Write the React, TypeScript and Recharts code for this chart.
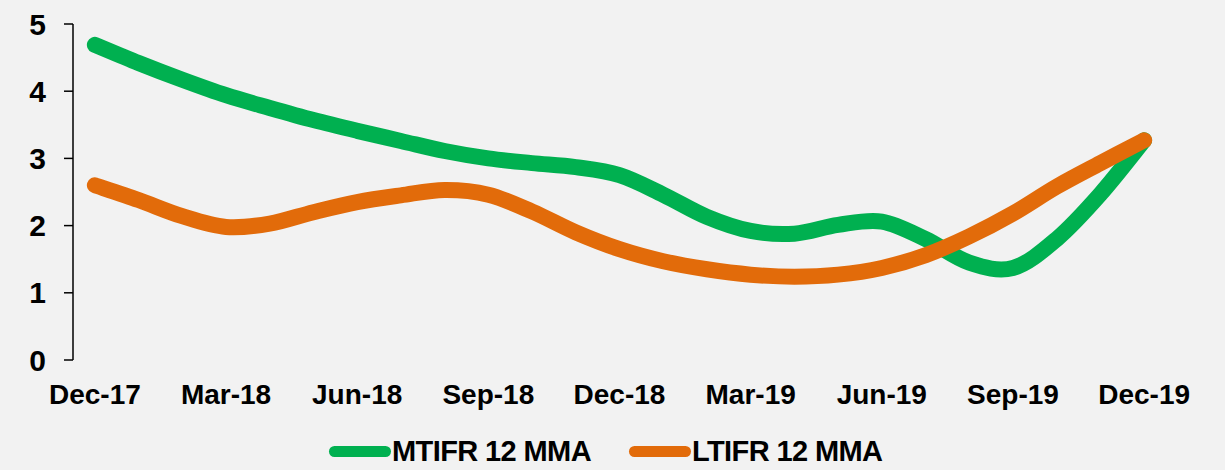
import { LineChart, Line, XAxis, YAxis, Legend } from 'recharts'

// monthly points, Dec-17 .. Dec-19
const months = [
  'Dec-17', 'Jan-18', 'Feb-18', 'Mar-18', 'Apr-18', 'May-18', 'Jun-18', 'Jul-18', 'Aug-18',
  'Sep-18', 'Oct-18', 'Nov-18', 'Dec-18', 'Jan-19', 'Feb-19', 'Mar-19', 'Apr-19', 'May-19',
  'Jun-19', 'Jul-19', 'Aug-19', 'Sep-19', 'Oct-19', 'Nov-19', 'Dec-19',
]
const mtifr = [
  4.69, 4.42, 4.17, 3.94, 3.75, 3.57, 3.41, 3.26, 3.11, 3.0, 2.93, 2.87, 2.75,
  2.46, 2.13, 1.92, 1.88, 2.01, 2.06, 1.8, 1.45, 1.37, 1.8, 2.47, 3.27,
]
const ltifr = [
  2.6, 2.38, 2.14, 1.98, 2.03, 2.2, 2.35, 2.45, 2.53, 2.46, 2.21, 1.9, 1.65,
  1.47, 1.35, 1.27, 1.24, 1.27, 1.37, 1.56, 1.84, 2.18, 2.58, 2.93, 3.27,
]
const labelTicks = [0, 3, 6, 9, 12, 15, 18, 21, 24]
const markTicks = [-0.5, 2.5, 5.5, 8.5, 11.5, 14.5, 17.5, 20.5, 23.5]
const yTicks = [0, 1, 2, 3, 4, 5]

const data = months.map((m, i) => ({ i, month: m, mtifr: mtifr[i], ltifr: ltifr[i] }))

const FONT = '"Liberation Sans", Arial, sans-serif'
const GREEN = '#00B050'
const ORANGE = '#E26B0A'

// Excel-style smoothing (Catmull-Rom through every point)
function smoothCurve(context: any) {
  let pts: number[][] = []
  return {
    areaStart() {},
    areaEnd() {},
    lineStart() {
      pts = []
    },
    point(x: number, y: number) {
      pts.push([+x, +y])
    },
    lineEnd() {
      if (!pts.length) return
      context.moveTo(pts[0][0], pts[0][1])
      for (let k = 0; k < pts.length - 1; k++) {
        const p0 = pts[k - 1] || pts[k]
        const p1 = pts[k]
        const p2 = pts[k + 1]
        const p3 = pts[k + 2] || p2
        context.bezierCurveTo(
          p1[0] + (p2[0] - p0[0]) / 6, p1[1] + (p2[1] - p0[1]) / 6,
          p2[0] - (p3[0] - p1[0]) / 6, p2[1] - (p3[1] - p1[1]) / 6,
          p2[0], p2[1],
        )
      }
    },
  }
}

function LegendContent() {
  const items = [
    { label: 'MTIFR 12 MMA', color: GREEN },
    { label: 'LTIFR 12 MMA', color: ORANGE },
  ]
  return (
    <div style={{ display: 'flex', alignItems: 'center', paddingLeft: 329, paddingTop: 5, gap: 38 }}>
      {items.map((it) => (
        <div key={it.label} style={{ display: 'flex', alignItems: 'center' }}>
          <span style={{ width: 62, height: 11, borderRadius: 6, background: it.color, marginRight: 1 }} />
          <span style={{ fontFamily: FONT, fontWeight: 'bold', fontSize: 29, letterSpacing: -0.6, color: '#000' }}>
            {it.label}
          </span>
        </div>
      ))}
    </div>
  )
}

export default function App() {
  const xTick = { fontFamily: FONT, fontWeight: 'bold' as const, fontSize: 28, fill: '#000' }
  const yTick = { fontFamily: FONT, fontWeight: 'bold' as const, fontSize: 30, fill: '#000' }
  return (
    <div style={{ position: 'absolute', left: 0, top: 0, width: 1225, height: 470, background: '#F2F2F2' }}>
      <LineChart width={1225} height={470} data={data} margin={{ top: 24, right: 59, left: 0, bottom: 0 }}>
        <XAxis
          xAxisId="marks"
          type="number"
          dataKey="i"
          domain={[-0.5, 24.5]}
          ticks={markTicks}
          tick={false}
          tickSize={8}
          height={0}
          axisLine={{ stroke: '#000', strokeWidth: 1.5 }}
          tickLine={{ stroke: '#000', strokeWidth: 1.5 }}
        />
        <XAxis
          xAxisId="labels"
          type="number"
          dataKey="i"
          domain={[-0.5, 24.5]}
          ticks={labelTicks}
          tickFormatter={(v: number) => months[v]}
          tick={xTick}
          axisLine={false}
          tickLine={false}
          tickMargin={18}
          height={70}
          interval={0}
        />
        <YAxis
          domain={[0, 5]}
          ticks={yTicks}
          width={73}
          tick={yTick}
          tickSize={9}
          tickMargin={18}
          axisLine={{ stroke: '#000', strokeWidth: 1.5 }}
          tickLine={{ stroke: '#000', strokeWidth: 1.5 }}
        />
        <Legend verticalAlign="bottom" height={40} content={<LegendContent />} />
        <Line
          xAxisId="labels"
          type={smoothCurve as any}
          dataKey="mtifr"
          stroke={GREEN}
          strokeWidth={16}
          strokeLinecap="round"
          dot={false}
          isAnimationActive={false}
        />
        <Line
          xAxisId="labels"
          type={smoothCurve as any}
          dataKey="ltifr"
          stroke={ORANGE}
          strokeWidth={16}
          strokeLinecap="round"
          dot={false}
          isAnimationActive={false}
        />
      </LineChart>
    </div>
  )
}
